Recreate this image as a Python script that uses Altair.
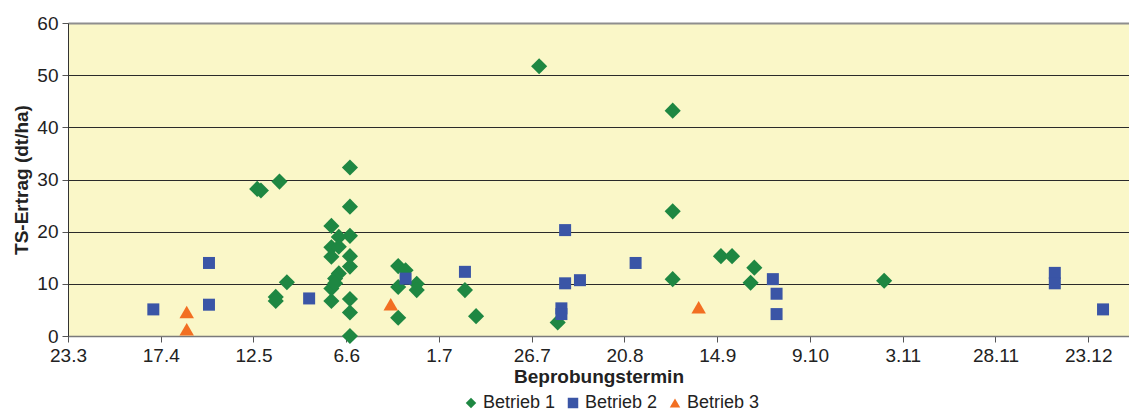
import altair as alt
import pandas as pd

YEAR = 2009
START = pd.Timestamp(YEAR, 3, 23)

TICK_LABELS = ["23.3", "17.4", "12.5", "6.6", "1.7", "26.7", "20.8",
               "14.9", "9.10", "3.11", "28.11", "23.12"]
Y_TICKS = [0, 10, 20, 30, 40, 50, 60]

SERIES = ["Betrieb 1", "Betrieb 2", "Betrieb 3"]
COLORS = ["#1E8742", "#3A55A6", "#F26F22"]
SHAPES = ["diamond", "square", "triangle-up"]
SIZES = [260, 144, 210]

# Betrieb 1: sampling date (day.month) and dry matter yield
b1_dates = ["13.5", "14.5", "19.5", "18.5", "18.5", "21.5",
            "7.6", "7.6", "7.6", "7.6", "7.6", "7.6", "7.6", "7.6",
            "2.6", "2.6", "2.6", "2.6", "2.6",
            "4.6", "4.6", "4.6", "3.6", "3.6",
            "20.6", "20.6", "20.6", "22.6", "25.6", "25.6",
            "8.7", "11.7", "28.7", "2.8",
            "2.9", "2.9", "2.9", "15.9", "18.9", "24.9", "23.9", "29.10"]
b1_values = [28.2, 27.9, 29.6, 7.5, 6.7, 10.3,
             32.3, 24.8, 19.2, 15.3, 13.3, 7.1, 4.5, 0.0,
             21.1, 17.0, 15.2, 6.7, 9.1,
             19.0, 17.1, 12.0, 11.0, 10.1,
             13.4, 9.4, 3.5, 12.6, 10.0, 8.8,
             8.8, 3.8, 51.7, 2.6,
             43.2, 23.9, 10.9, 15.3, 15.3, 13.1, 10.2, 10.6]

# Betrieb 2
b2_dates = ["15.4", "30.4", "30.4", "27.5", "22.6", "8.7",
            "4.8", "4.8", "3.8", "3.8", "8.8", "23.8",
            "29.9", "30.9", "30.9", "14.12", "14.12", "27.12"]
b2_values = [5.1, 14.0, 6.0, 7.2, 11.0, 12.3,
             20.3, 10.1, 5.3, 4.2, 10.7, 14.0,
             10.9, 8.1, 4.2, 12.1, 10.1, 5.1]

# Betrieb 3
b3_dates = ["24.4", "24.4", "18.6", "9.9"]
b3_values = [4.6, 1.3, 6.1, 5.5]


def day_offset(s):
    d, m = s.split(".")
    return (pd.Timestamp(YEAR, int(m), int(d)) - START).days


rows = []
for name, dates, values in zip(SERIES, [b1_dates, b2_dates, b3_dates],
                               [b1_values, b2_values, b3_values]):
    size = SIZES[SERIES.index(name)]
    for d, v in zip(dates, values):
        rows.append({"Tag": day_offset(d), "Ertrag": v, "Betrieb": name, "sz": size})
df = pd.DataFrame(rows)

tick_days = [25 * i for i in range(len(TICK_LABELS))]
label_js = "[" + ",".join("'" + t + "'" for t in TICK_LABELS) + "]"

FONT = "Liberation Sans"

chart = alt.Chart(df).mark_point(filled=True, opacity=1, strokeWidth=0).encode(
    x=alt.X("Tag:Q",
            scale=alt.Scale(domain=[0, 286], nice=False, zero=False),
            axis=alt.Axis(values=tick_days,
                          labelExpr=label_js + "[round(datum.value / 25)]",
                          title="Beprobungstermin", grid=False,
                          domainColor="#7a7a7a", domainWidth=1.5,
                          tickColor="#555", tickSize=6, tickWidth=1,
                          labelFont=FONT, labelFontSize=19, labelColor="#222",
                          labelPadding=4, labelFlush=False, labelOverlap=False,
                          titleFont=FONT, titleFontSize=19, titleFontWeight="bold",
                          titleColor="#222", titlePadding=2)),
    y=alt.Y("Ertrag:Q",
            scale=alt.Scale(domain=[0, 60], nice=False),
            axis=alt.Axis(values=Y_TICKS, title="TS-Ertrag (dt/ha)",
                          grid=True,
                          gridColor={"condition": {"test": "datum.value == 60 || datum.value == 0",
                                                   "value": "#8e8e8e"},
                                     "value": "#2a2a2a"},
                          gridWidth={"condition": {"test": "datum.value == 60",
                                                   "value": 2},
                                     "value": 1},
                          domainColor="#333", domainWidth=1,
                          tickColor="#555", tickSize=6, tickWidth=1,
                          labelFont=FONT, labelFontSize=19, labelColor="#222",
                          labelPadding=4,
                          titleFont=FONT, titleFontSize=19, titleFontWeight="bold",
                          titleColor="#222", titlePadding=5)),
    color=alt.Color("Betrieb:N",
                    scale=alt.Scale(domain=SERIES, range=COLORS),
                    legend=alt.Legend(title=None, orient="none", direction="horizontal",
                                      legendX=394, legendY=371,
                                      labelFont=FONT, labelFontSize=18,
                                      labelColor="#222", symbolSize=110,
                                      symbolStrokeWidth=0, labelOffset=3,
                                      columnPadding=8)),
    shape=alt.Shape("Betrieb:N",
                    scale=alt.Scale(domain=SERIES, range=SHAPES)),
    size=alt.Size("sz:Q", scale=None),
).properties(
    width=1061,
    height=313,
    autosize=alt.AutoSizeParams(type="none"),
    padding={"left": 68, "top": 23, "right": 0, "bottom": 76},
    background="white",
).configure_view(
    fill="#FAF7C8",
    stroke=None,
)

chart.save("out.html", embed_options={"renderer": "svg", "actions": False})
